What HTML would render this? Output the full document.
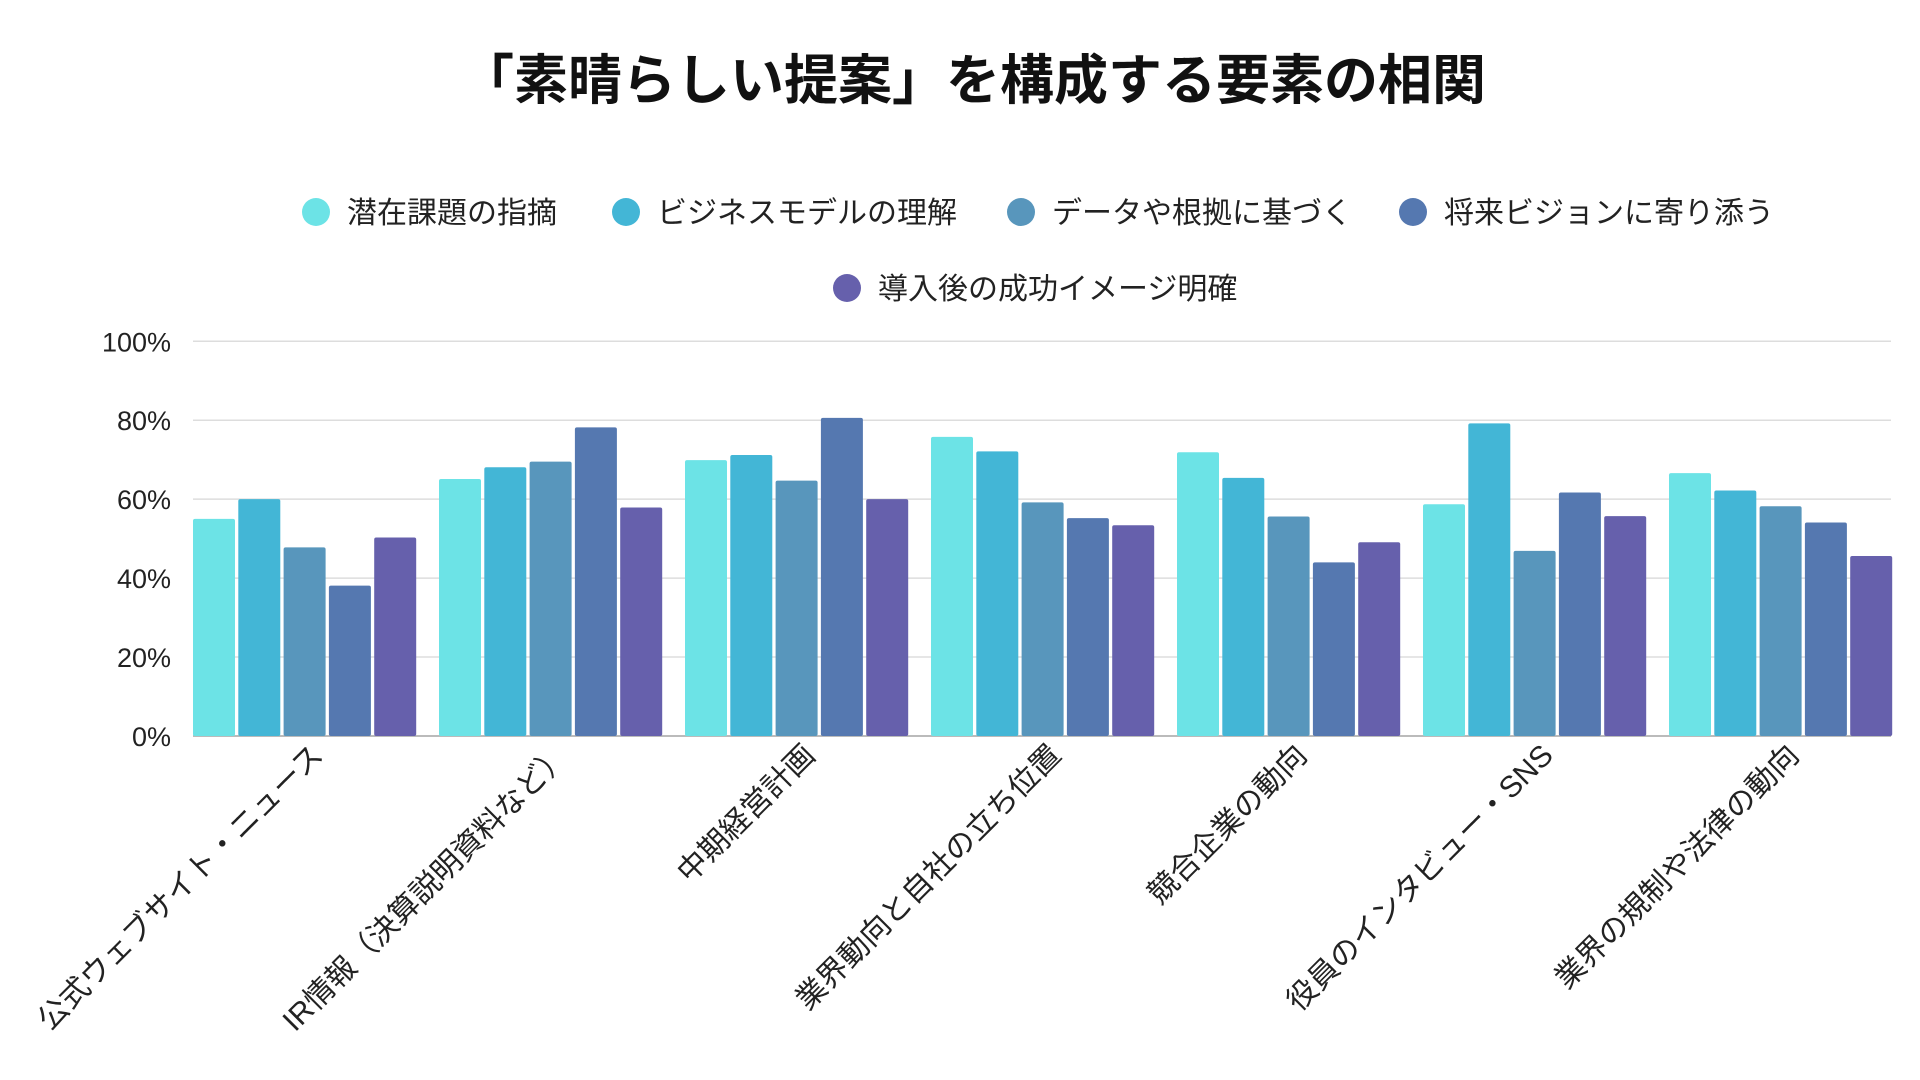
<!DOCTYPE html>
<html><head><meta charset="utf-8"><style>
body{margin:0;background:#fff;}
svg{display:block;font-family:"Liberation Sans","Noto Sans CJK JP",sans-serif;}
</style></head><body>
<svg width="1920" height="1080" viewBox="0 0 1920 1080" id="c">
<text x="973" y="99" text-anchor="middle" font-size="54" font-weight="bold" fill="#111">「素晴らしい提案」を構成する要素の相関</text>
<g id="legend"></g>
<g id="grid"></g>
<g id="bars"></g>
<g id="xl"></g>
</svg>
<script>
const categories=["公式ウェブサイト・ニュース","IR情報（決算説明資料など）","中期経営計画","業界動向と自社の立ち位置","競合企業の動向","役員のインタビュー・SNS","業界の規制や法律の動向"];
const seriesNames=["潜在課題の指摘","ビジネスモデルの理解","データや根拠に基づく","将来ビジョンに寄り添う","導入後の成功イメージ明確"];
const s1=[55,65.1,69.9,75.8,71.9,58.7,66.6];
const s2=[60,68.1,71.2,72.1,65.4,79.2,62.2];
const s3=[47.8,69.5,64.7,59.2,55.6,46.9,58.2];
const s4=[38.1,78.2,80.6,55.2,44,61.7,54.1];
const s5=[50.3,57.9,60,53.4,49.1,55.7,45.6];
const ticks=[0,20,40,60,80,100];
const series=[s1,s2,s3,s4,s5];
const colors=["#6ce3e6","#43b6d6","#5896bc","#5578b0","#6660ac"];
const NS="http://www.w3.org/2000/svg";
const y0=736,y1=341.3,xL=193,xR=1891,gp=246,bp=45.3,bw=42;
const y=v=>y0-(v/100)*(y0-y1);
const gx=i=>xL+i*gp;
function mk(t,a,p){const e=document.createElementNS(NS,t);for(const k in a)e.setAttribute(k,a[k]);p.appendChild(e);return e;}
const grid=document.getElementById('grid');
ticks.forEach(t=>{
 const l=mk('line',{x1:xL,x2:xR,y1:y(t),y2:y(t),stroke:t===0?'#bbb':'#ddd','stroke-width':t===0?2:1.5},grid);
 
 
 const tx=mk('text',{x:171,y:y(t)+10,'text-anchor':'end','font-size':27,fill:'#222'},grid);
 tx.textContent=t+'%';
 
 
});
const bars=document.getElementById('bars');
series.forEach((s,si)=>{s.forEach((v,ci)=>{
 const r=mk('rect',{x:gx(ci)+si*bp,y:y(v),width:bw,height:y0-y(v),fill:colors[si],rx:2},bars);
 
 
});});
const xl=document.getElementById('xl');
categories.forEach((c,ci)=>{
 const cx=gx(ci)+(5*bp-3)/2+20;
 const t=mk('text',{x:cx,y:757,'text-anchor':'end','font-size':30,fill:'#222',transform:`rotate(-45 ${cx} 757)`},xl);
 t.textContent=c;
 
 
});
const lg=document.getElementById('legend');
const lpos=[[316,212],[626,212],[1021,212],[1413,212],[847,288]];
seriesNames.forEach((n,i)=>{
 const g=mk('g',{},lg);
 
 
 mk('circle',{cx:lpos[i][0],cy:lpos[i][1],r:14,fill:colors[i]},g);
 const t=mk('text',{x:lpos[i][0]+31,y:lpos[i][1]+11,'font-size':30,fill:'#222'},g);
 t.textContent=n;
});
</script>
</body></html>
